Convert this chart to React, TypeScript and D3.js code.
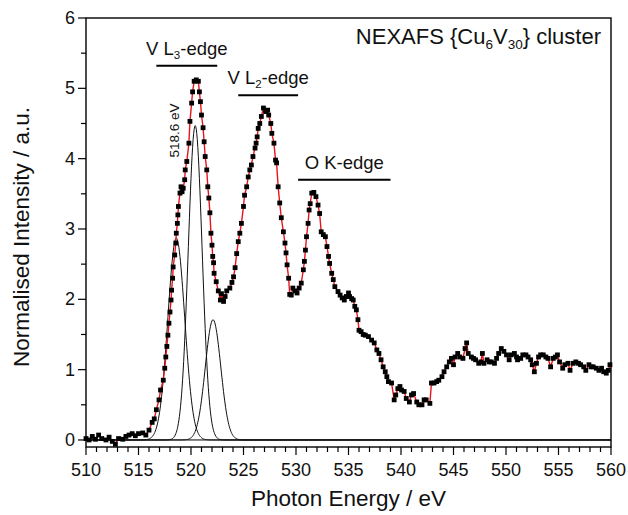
import React from "react";
import * as d3 from "d3";

// Measured NEXAFS spectrum: photon energy (eV) and normalised intensity (a.u.)
const energy: number[] = [
  510.0, 510.3, 510.6, 510.9, 511.2, 511.5, 511.9, 512.2, 512.5, 512.8,
  513.1, 513.5, 513.8, 514.1, 514.4, 514.7, 515.0, 515.4, 515.7, 516.0,
  516.3, 516.5, 516.7, 516.95, 517.1, 517.36, 517.5, 517.6, 517.7, 517.8,
  517.9, 518.0, 518.1, 518.15, 518.25, 518.3, 518.45, 518.55, 518.6, 518.7,
  518.75, 518.8, 518.95, 519.05, 519.15, 519.26, 519.4, 519.45, 519.6, 519.8,
  519.9, 520.06, 520.15, 520.3, 520.5, 520.7, 520.8, 520.9, 521.0, 521.15,
  521.25, 521.35, 521.5, 521.6, 521.7, 521.8, 521.9, 522.0, 522.07, 522.15,
  522.2, 522.4, 522.6, 522.8, 522.9, 523.1, 523.25, 523.4, 523.7, 523.9,
  524.05, 524.2, 524.35, 524.5, 524.65, 524.8, 525.0, 525.1, 525.3, 525.45,
  525.6, 525.75, 525.9, 526.1, 526.2, 526.3, 526.4, 526.55, 526.7, 526.9,
  527.1, 527.3, 527.4, 527.6, 527.7, 527.9, 528.05, 528.15, 528.3, 528.45,
  528.6, 528.8, 528.95, 529.05, 529.15, 529.3, 529.4, 529.55, 529.7, 529.9,
  530.1, 530.3, 530.5, 530.7, 530.8, 530.9, 531.0, 531.15, 531.25, 531.35,
  531.5, 531.7, 531.9, 532.1, 532.25, 532.4, 532.6, 532.8, 532.95, 533.1,
  533.2, 533.4, 533.55, 533.7, 534.0, 534.2, 534.4, 534.6, 534.8, 535.0,
  535.1, 535.3, 535.45, 535.6, 535.75, 535.9, 536.0, 536.2, 536.4, 536.6,
  536.9, 537.2, 537.45, 537.7, 537.9, 538.1, 538.3, 538.5, 538.65, 538.8,
  539.1, 539.35, 539.5, 539.7, 539.9, 540.05, 540.3, 540.5, 540.8, 541.0,
  541.2, 541.5, 541.7, 542.0, 542.2, 542.4, 542.75, 542.9, 543.15, 543.4,
  543.6, 543.9, 544.1, 544.35, 544.6, 544.8, 545.0, 545.15, 545.4, 545.6,
  545.9, 546.1, 546.25, 546.4, 546.7, 546.9, 547.1, 547.4, 547.6, 547.75,
  547.9, 548.2, 548.4, 548.6, 548.9, 549.1, 549.3, 549.55, 549.8, 550.05,
  550.3, 550.5, 550.8, 551.0, 551.1, 551.4, 551.6, 551.9, 552.1, 552.35,
  552.5, 552.7, 552.9, 553.1, 553.3, 553.55, 553.8, 554.0, 554.25, 554.5,
  554.7, 554.9, 555.1, 555.4, 555.6, 555.9, 556.1, 556.4, 556.65, 556.9,
  557.1, 557.4, 557.6, 557.9, 558.1, 558.3, 558.6, 558.85, 559.1, 559.3,
  559.55, 559.75, 559.9,
];

const intensity: number[] = [
  0.02, 0.0, 0.05, 0.01, 0.07, 0.02, 0.0, 0.04, -0.02, -0.06,
  0.02, 0.01, 0.05, 0.07, 0.09, 0.06, 0.09, 0.1, 0.07, 0.14,
  0.25, 0.3, 0.43, 0.57, 0.71, 0.85, 1.02, 1.18, 1.33, 1.49,
  1.66, 1.82, 1.99, 2.13, 2.3, 2.46, 2.63, 2.8, 2.94, 3.08,
  3.2, 3.32, 3.51, 3.6, 3.53, 3.58, 3.7, 3.84, 3.96, 4.22,
  4.53, 4.79, 4.95, 5.1, 5.12, 5.1, 4.95, 4.81, 4.62, 4.44,
  4.24, 4.03, 3.84, 3.6, 3.44, 3.23, 2.94, 2.77, 2.61, 2.52,
  2.37, 2.25, 2.12, 1.99, 2.08, 1.97, 2.04, 2.12, 2.16, 2.24,
  2.32, 2.45, 2.65, 2.82, 2.94, 3.08, 3.32, 3.48, 3.6, 3.74,
  3.84, 3.91, 4.03, 4.15, 4.22, 4.31, 4.43, 4.5, 4.6, 4.72,
  4.67, 4.69, 4.62, 4.5, 4.36, 4.22, 3.98, 3.94, 3.6, 3.37,
  3.16, 2.96, 2.8, 2.66, 2.49, 2.3, 2.07, 2.06, 2.16, 2.12,
  2.09, 2.16, 2.23, 2.42, 2.54, 2.7, 2.89, 3.08, 3.27, 3.36,
  3.51, 3.52, 3.46, 3.34, 3.22, 2.96, 2.92, 2.89, 2.75, 2.61,
  2.51, 2.37, 2.28, 2.18, 2.11, 2.06, 2.02, 1.99, 2.04, 2.09,
  2.04, 2.01, 1.99, 1.9, 1.85, 1.71, 1.56, 1.54, 1.5, 1.49,
  1.47, 1.42, 1.38, 1.28, 1.23, 1.14, 1.04, 0.97, 0.9, 0.83,
  0.81, 0.57, 0.64, 0.73, 0.76, 0.71, 0.69, 0.59, 0.54, 0.64,
  0.66, 0.54, 0.5, 0.5, 0.57, 0.57, 0.52, 0.81, 0.81, 0.83,
  0.85, 0.9, 0.97, 1.04, 1.11, 1.16, 1.07, 1.18, 1.23, 1.18,
  1.16, 1.3, 1.38, 1.23, 1.18, 1.16, 1.14, 1.09, 1.11, 1.23,
  1.09, 1.14, 1.11, 1.11, 1.09, 1.16, 1.23, 1.3, 1.26, 1.21,
  1.14, 1.21, 1.23, 1.18, 1.14, 1.16, 1.21, 1.21, 1.18, 1.14,
  1.07, 0.97, 1.09, 1.18, 1.21, 1.21, 1.18, 1.16, 1.04, 1.16,
  1.18, 1.21, 1.11, 1.02, 1.07, 1.09, 0.99, 1.09, 1.11, 1.09,
  1.07, 1.04, 0.99, 1.07, 1.04, 1.04, 1.02, 0.99, 1.02, 0.97,
  0.95, 0.99, 1.07,
];

// Gaussian components fitted to the V L3-edge
const peakCentres: number[] = [518.6, 520.4, 522.1];
const peakHeights: number[] = [2.87, 4.47, 1.71];
const peakSigmas: number[] = [0.8, 0.66, 0.74];

// Axis ticks
const xTicks: number[] = [510, 515, 520, 525, 530, 535, 540, 545, 550, 555, 560];
const yTicks: number[] = [0, 1, 2, 3, 4, 5, 6];

// Edge annotations: label, subscript, bar start/end (eV), bar level (a.u.)
const edgeLabels = [
  { main: "V L", sub: "3", rest: "-edge", from: 516.7, to: 522.5, level: 5.32 },
  { main: "V L", sub: "2", rest: "-edge", from: 524.5, to: 530.2, level: 4.9 },
  { main: "O K-edge", sub: "", rest: "", from: 530.2, to: 539.0, level: 3.7 },
];

const W = 628;
const H = 515;
const margin = { left: 86, right: 17, top: 18, bottom: 68 };
const FONT = "Arial, 'Liberation Sans', Helvetica, sans-serif";

export default function App() {
  const x = d3.scaleLinear().domain([510, 560]).range([margin.left, W - margin.right]);
  const y = d3.scaleLinear().domain([-0.1, 6]).range([H - margin.bottom, margin.top]);

  const pts = energy.map((e, i) => [e, intensity[i]] as [number, number]);
  const line = d3
    .line<[number, number]>()
    .x((d) => x(d[0]))
    .y((d) => y(d[1]));

  const grid = d3.range(510, 560.001, 0.05);
  const components = peakCentres.map((c, k) =>
    grid.map(
      (e) =>
        [e, peakHeights[k] * Math.exp(-((e - c) ** 2) / (2 * peakSigmas[k] ** 2))] as [
          number,
          number
        ]
    )
  );

  const xMinor = d3.range(510, 560.001, 1);
  const yMinor = d3.range(0, 6.001, 0.5);
  const x0 = x(510);
  const x1 = x(560);
  const yb = y(-0.1);
  const yt = y(6);
  const sq = 4.8;

  return (
    <svg
      width={W}
      height={H}
      style={{ position: "absolute", left: 0, top: 0, background: "#fff" }}
      fontFamily={FONT}
    >
      <rect x={0} y={0} width={W} height={H} fill="#fff" />

      {/* zero baseline */}
      <line x1={x0} x2={x1} y1={y(0)} y2={y(0)} stroke="#000" strokeWidth={1} />

      {/* fitted components */}
      {components.map((c, k) => (
        <path key={k} d={line(c) ?? ""} fill="none" stroke="#111" strokeWidth={1} />
      ))}

      {/* measured spectrum */}
      <path d={line(pts) ?? ""} fill="none" stroke="#e8141c" strokeWidth={1.4} />
      {pts.map((d, i) => (
        <rect
          key={i}
          x={x(d[0]) - sq / 2}
          y={y(d[1]) - sq / 2}
          width={sq}
          height={sq}
          fill="#000"
        />
      ))}

      {/* frame */}
      <rect
        x={x0}
        y={yt}
        width={x1 - x0}
        height={yb - yt}
        fill="none"
        stroke="#000"
        strokeWidth={1.4}
      />

      {/* x axis ticks */}
      {xMinor.map((v) => {
        const major = v % 5 === 0;
        return (
          <line
            key={"xm" + v}
            x1={x(v)}
            x2={x(v)}
            y1={yb}
            y2={yb + (major ? 8 : 5)}
            stroke="#000"
            strokeWidth={1.2}
          />
        );
      })}
      {xTicks.map((v) => (
        <text key={"xt" + v} x={x(v)} y={yb + 29} fontSize={18} textAnchor="middle" fill="#111">
          {v}
        </text>
      ))}

      {/* y axis ticks */}
      {yMinor.map((v) => {
        const major = Number.isInteger(v);
        return (
          <line
            key={"ym" + v}
            x1={x0}
            x2={x0 - (major ? 8 : 5)}
            y1={y(v)}
            y2={y(v)}
            stroke="#000"
            strokeWidth={1.2}
          />
        );
      })}
      {yTicks.map((v) => (
        <text
          key={"yt" + v}
          x={x0 - 11}
          y={y(v)}
          fontSize={18}
          textAnchor="end"
          dominantBaseline="central"
          fill="#111"
        >
          {v}
        </text>
      ))}

      {/* axis titles */}
      <text x={(x0 + x1) / 2} y={506} fontSize={22.5} textAnchor="middle" fill="#111">
        Photon Energy / eV
      </text>
      <text
        transform={`translate(29, 237) rotate(-90)`}
        fontSize={22.5}
        textAnchor="middle"
        fill="#111"
      >
        Normalised Intensity / a.u.
      </text>

      {/* title */}
      <text x={601} y={44} fontSize={22} textAnchor="end" fill="#111">
        NEXAFS {"{"}Cu
        <tspan fontSize={13.5} dy={5}>6</tspan>
        <tspan dy={-5}>V</tspan>
        <tspan fontSize={13.5} dy={5}>30</tspan>
        <tspan dy={-5}>{"}"} cluster</tspan>
      </text>

      {/* edge annotations */}
      {edgeLabels.map((l, i) => {
        const by = y(l.level);
        const cx = (x(l.from) + x(l.to)) / 2;
        return (
          <g key={"e" + i}>
            <line x1={x(l.from)} x2={x(l.to)} y1={by} y2={by} stroke="#000" strokeWidth={2} />
            <text x={cx} y={by - 11} fontSize={18.5} textAnchor="middle" fill="#111">
              {l.main}
              {l.sub && (
                <tspan fontSize={11.5} dy={4}>
                  {l.sub}
                </tspan>
              )}
              {l.rest && <tspan dy={l.sub ? -4 : 0}>{l.rest}</tspan>}
            </text>
          </g>
        );
      })}

      {/* peak position label */}
      <text
        transform={`translate(${x(518.6) - 2}, ${y(4.4)}) rotate(-90)`}
        fontSize={13.5}
        textAnchor="middle"
        dominantBaseline="central"
        fill="#111"
      >
        518.6 eV
      </text>
    </svg>
  );
}
